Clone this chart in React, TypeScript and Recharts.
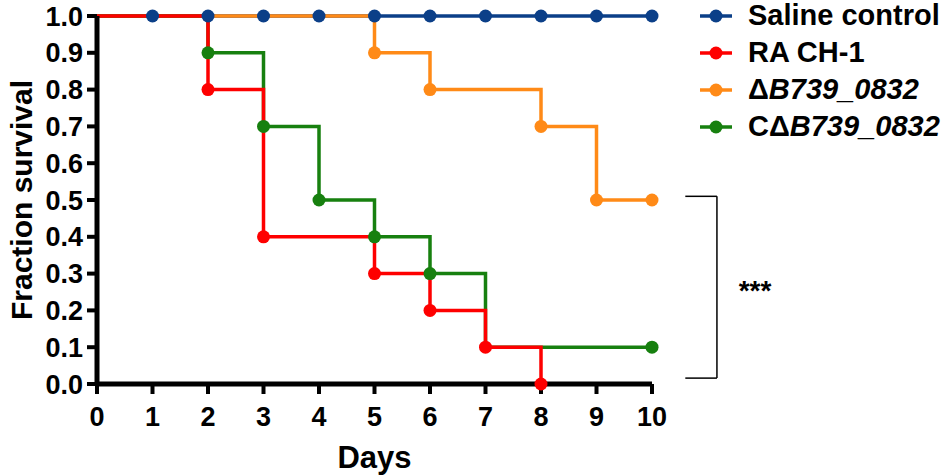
import React from 'react';
import { LineChart, Line, XAxis, YAxis, ReferenceLine } from 'recharts';

// survival fraction per day (Kaplan-Meier steps)
const days = [0, 1, 2, 3, 4, 5, 6, 7, 8, 9, 10];
const salineSurvival = [1, 1, 1, 1, 1, 1, 1, 1, 1, 1, 1];
const raSurvival = [1, 1, 0.8, 0.4, 0.4, 0.3, 0.2, 0.1, 0.0];
const mutantSurvival = [1, 1, 1, 1, 1, 0.9, 0.8, 0.8, 0.7, 0.5, 0.5];
const complementSurvival = [1, 1, 0.9, 0.7, 0.5, 0.4, 0.3, 0.1, 0.1, 0.1, 0.1];

// days where a marker is drawn
const salineMarks = [1, 2, 3, 4, 5, 6, 7, 8, 9, 10];
const raMarks = [2, 3, 5, 6, 7, 8];
const mutantMarks = [5, 6, 8, 9, 10];
const complementMarks = [2, 3, 4, 5, 6, 10];

const yTicks = [0, 0.1, 0.2, 0.3, 0.4, 0.5, 0.6, 0.7, 0.8, 0.9, 1.0];

const COLORS = {
  saline: '#0b3f88',
  ra: '#fe0000',
  mutant: '#ff8a17',
  comp: '#17800f',
};

const data = days.map((d, i) => ({
  day: d,
  saline: salineSurvival[i],
  ra: raSurvival[i],
  mutant: mutantSurvival[i],
  comp: complementSurvival[i],
}));

const FONT = '"Liberation Sans", Arial, Helvetica, sans-serif';

const markDot = (color: string, marks: number[], tag: string) => (props: any) => {
  const { cx, cy, payload, index } = props;
  if (cy == null || !marks.includes(payload.day)) return <g key={`${tag}${index}`} />;
  return <circle key={`${tag}${index}`} cx={cx} cy={cy} r={6.5} fill={color} />;
};

const legendItems = [
  { color: COLORS.saline, label: <span>Saline control</span> },
  { color: COLORS.ra, label: <span>RA CH-1</span> },
  { color: COLORS.mutant, label: <span>Δ<i>B739_0832</i></span> },
  { color: COLORS.comp, label: <span>CΔ<i>B739_0832</i></span> },
];

const App: React.FC = () => {
  return (
    <div style={{ position: 'absolute', left: 0, top: 0, width: 950, height: 476, background: '#fff', fontFamily: FONT }}>
      <LineChart width={950} height={476} data={data} margin={{ top: 16, right: 298, bottom: 0, left: 0 }}>
        <XAxis
          dataKey="day"
          type="number"
          domain={[0, 10]}
          ticks={days}
          interval={0}
          height={92}
          tickSize={10}
          tickMargin={13}
          axisLine={{ stroke: '#000', strokeWidth: 5 }}
          tickLine={{ stroke: '#000', strokeWidth: 4 }}
          tick={{ fill: '#000', fontSize: 27, fontWeight: 700, fontFamily: FONT }}
          label={{ value: 'Days', position: 'insideBottom', offset: 8, fill: '#000', fontSize: 31, fontWeight: 700, fontFamily: FONT }}
        />
        <YAxis
          type="number"
          domain={[0, 1]}
          ticks={yTicks}
          interval={0}
          width={97}
          tickSize={10}
          tickMargin={4}
          tickFormatter={(v: number) => v.toFixed(1)}
          axisLine={{ stroke: '#000', strokeWidth: 5 }}
          tickLine={{ stroke: '#000', strokeWidth: 4 }}
          tick={{ fill: '#000', fontSize: 27, fontWeight: 700, fontFamily: FONT }}
          label={{
            value: 'Fraction survival',
            angle: -90,
            position: 'insideLeft',
            offset: 21,
            textAnchor: 'middle',
            fill: '#000',
            fontSize: 30,
            fontWeight: 700,
            fontFamily: FONT,
          }}
        />
        <Line type="stepAfter" dataKey="saline" stroke={COLORS.saline} strokeWidth={3.5} dot={false} isAnimationActive={false} />
        <Line type="stepAfter" dataKey="mutant" stroke={COLORS.mutant} strokeWidth={3.5} dot={markDot(COLORS.mutant, mutantMarks, 'm')} isAnimationActive={false} />
        <Line type="stepAfter" dataKey="comp" stroke={COLORS.comp} strokeWidth={3.5} dot={markDot(COLORS.comp, complementMarks, 'c')} isAnimationActive={false} />
        <Line type="stepAfter" dataKey="ra" stroke={COLORS.ra} strokeWidth={3.5} dot={markDot(COLORS.ra, raMarks, 'r')} isAnimationActive={false} />
        {/* saline markers drawn last so they sit on top */}
        <Line type="stepAfter" dataKey="saline" stroke="none" dot={markDot(COLORS.saline, salineMarks, 's')} isAnimationActive={false} />
        {/* significance bracket */}
        <ReferenceLine segment={[{ x: 10.6, y: 0.51 }, { x: 11.17, y: 0.51 }]} stroke="#000" strokeWidth={1.5} ifOverflow="visible" />
        <ReferenceLine segment={[{ x: 11.17, y: 0.51 }, { x: 11.17, y: 0.016 }]} stroke="#000" strokeWidth={1.5} ifOverflow="visible" />
        <ReferenceLine segment={[{ x: 10.6, y: 0.016 }, { x: 11.17, y: 0.016 }]} stroke="#000" strokeWidth={1.5} ifOverflow="visible" />
      </LineChart>
      <svg style={{ position: 'absolute', left: 0, top: 0, pointerEvents: 'none' }} width={950} height={476}>
        <text x={755} y={300} textAnchor="middle" fontSize={28} fontWeight={700} fontFamily={FONT} fill="#000">***</text>
      </svg>
      <div style={{ position: 'absolute', left: 700, top: -3, width: 250 }}>
        {legendItems.map((it, i) => (
          <div key={i} style={{ display: 'flex', alignItems: 'center', height: 37 }}>
            <svg width={34} height={16} style={{ flex: 'none' }}>
              <line x1={0} y1={8} x2={32} y2={8} stroke={it.color} strokeWidth={3.5} />
              <circle cx={16} cy={8} r={6.5} fill={it.color} />
            </svg>
            <div style={{ marginLeft: 14, fontSize: 29, fontWeight: 700, lineHeight: '37px', whiteSpace: 'nowrap', color: '#000' }}>
              {it.label}
            </div>
          </div>
        ))}
      </div>
    </div>
  );
};

export default App;
